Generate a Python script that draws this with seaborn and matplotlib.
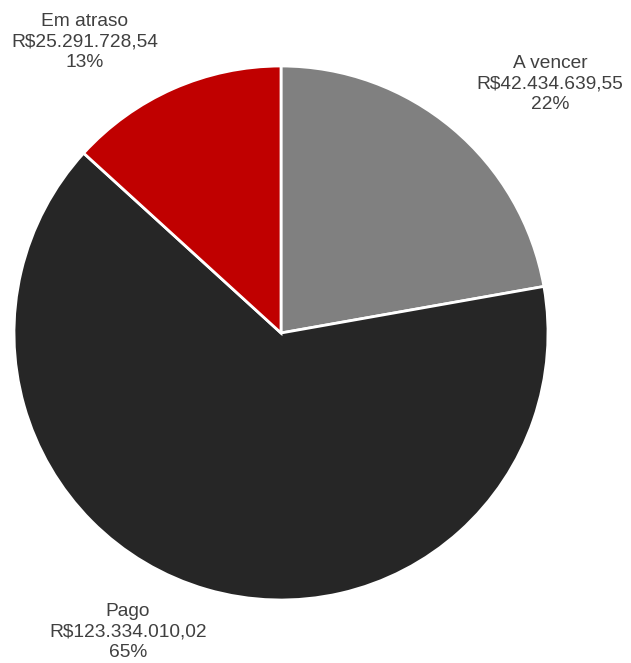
import matplotlib
matplotlib.use("Agg")
import matplotlib.pyplot as plt
import seaborn as sns

sns.set_theme(style="white")
plt.rcParams['font.family'] = ['Liberation Sans', 'DejaVu Sans']

categories = ["A vencer", "Pago", "Em atraso"]
values = [42434639.55, 123334010.02, 25291728.54]
value_labels = ["R$42.434.639,55", "R$123.334.010,02", "R$25.291.728,54"]
colors = ["#808080", "#262626", "#C00000"]

W, H = 631, 663
fig = plt.figure(figsize=(W / 100, H / 100), dpi=100)
cx, cy, r = 281, 333, 267
ax = fig.add_axes([(cx - r) / W, (H - cy - r) / H, 2 * r / W, 2 * r / H])
ax.set_xlim(-1, 1)
ax.set_ylim(-1, 1)
ax.axis("off")

ax.pie(values, colors=colors, startangle=90, counterclock=False, radius=1,
       wedgeprops=dict(edgecolor="white", linewidth=2.0), frame=False)
ax.set_xlim(-1, 1)
ax.set_ylim(-1, 1)
ax.set_aspect("auto")

total = sum(values)
label_pos = {"A vencer": (1.007, 0.933), "Pago": (-0.573, -1.120), "Em atraso": (-0.734, 1.090)}
for cat, v, vl in zip(categories, values, value_labels):
    pct = round(100 * v / total)
    x, y = label_pos[cat]
    ax.text(x, y, f"{cat}\n{vl}\n{pct}%", ha="center", va="center",
            fontsize=13.8, color="#404040", linespacing=1.28, clip_on=False)

fig.savefig("out.png", dpi=100, facecolor="white")
